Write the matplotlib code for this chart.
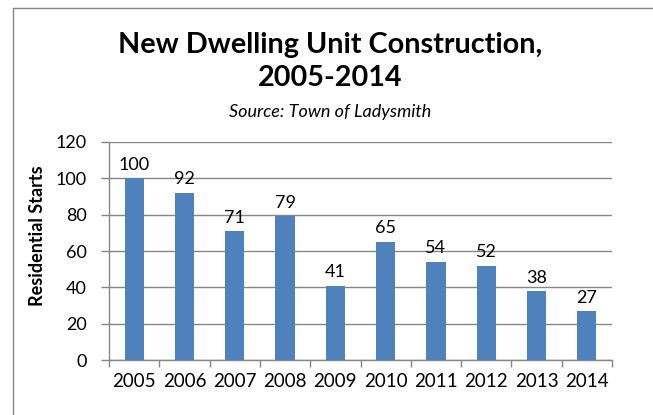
import matplotlib.pyplot as plt
from matplotlib.lines import Line2D
import numpy as np

years = ["2005", "2006", "2007", "2008", "2009", "2010", "2011", "2012", "2013", "2014"]
starts = [100, 92, 71, 79, 41, 65, 54, 52, 38, 27]
y_ticks = [0, 20, 40, 60, 80, 100, 120]

plt.rcParams['font.family'] = ['Lato', 'DejaVu Sans']

fig = plt.figure(figsize=(6.53, 4.15), dpi=100)
ax = fig.add_axes([109 / 653, 1 - 360 / 415, (612 - 109) / 653, (360 - 142) / 415])

x = np.arange(len(years))
ax.bar(x, starts, width=0.38, color="#4F81BD", zorder=3)
for xi, v in zip(x, starts):
    ax.text(xi, v + 3, str(v), ha="center", va="bottom", fontsize=13)

ax.set_xlim(-0.5, len(years) - 0.5)
ax.set_ylim(0, 120)
ax.set_yticks(y_ticks)
ax.tick_params(axis="y", labelsize=13, length=6, color="#868686", width=1, pad=10)
ax.set_xticks(x)
ax.set_xticklabels(years)
ax.tick_params(axis="x", labelsize=13.5, length=0, pad=9)
# little ticks between the categories
ax.set_xticks(np.arange(-0.5, len(years)), minor=True)
ax.tick_params(axis="x", which="minor", length=5, color="#868686", width=1)

ax.grid(axis="y", color="#868686", linewidth=1, zorder=0)
for s in ["top", "right"]:
    ax.spines[s].set_visible(False)
for s in ["left", "bottom"]:
    ax.spines[s].set_color("#868686")
    ax.spines[s].set_linewidth(1)

ax.set_ylabel("Residential Starts", fontsize=13, fontweight="bold")
ax.yaxis.set_label_coords(-0.125, 0.57)

fig.text(0.505, 1 - 45 / 415, "New Dwelling Unit Construction,", ha="center", va="center",
         fontsize=20.7, fontweight="bold")
fig.text(0.505, 1 - 78 / 415, "2005-2014", ha="center", va="center", fontsize=20.7, fontweight="bold")
fig.text(0.505, 1 - 112 / 415, "Source: Town of Ladysmith", ha="center", va="center",
         fontsize=13, style="italic")

# chart area border (only left and top visible in the crop)
fig.add_artist(Line2D([13 / 653, 13 / 653, 1], [0, 1 - 8 / 415, 1 - 8 / 415],
                      transform=fig.transFigure, color="#868686", linewidth=1))

fig.savefig("out.png", dpi=100)
